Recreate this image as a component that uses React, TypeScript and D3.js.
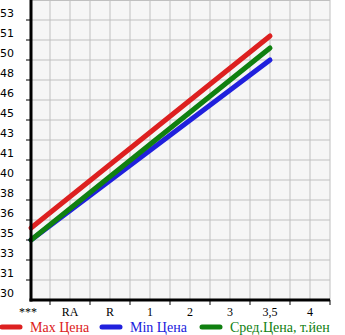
import React from "react";
import * as d3 from "d3";

const categories = ["***", "RA", "R", "1", "2", "3", "3,5", "4"];
const yTickLabels = ["30", "31", "33", "35", "36", "38", "40", "41", "43", "45", "46", "48", "50", "51", "53"];
const yMin = 30;
const yStep = 5 / 3;
const yMax = 55;

const maxPrice: (number | null)[] = [36, null, null, null, null, null, 52, null];
const minPrice: (number | null)[] = [35, null, null, null, null, null, 50, null];
const avgPrice: (number | null)[] = [35, null, null, null, null, null, 51, null];

const seriesNames = ["Max Цена", "Min Цена", "Сред.Цена, т.йен"];
const seriesColors = ["#dd2020", "#2020dd", "#108010"];

export default function App() {
  const W = 345, H = 335;
  const left = 31, right = 330, top = 0, bottom = 300;
  const x = d3.scalePoint<string>().domain(categories).range([30, 310]);
  const y = d3.scaleLinear().domain([yMin, yMax]).range([bottom, top]);

  const hGrid = d3.range(1, 15).map((i) => y(yMin + i * yStep));
  const vGrid = d3.range(50, 330, 20);
  const xTicks = categories.map((c) => (x(c) as number) + 20);

  const series = [
    { name: seriesNames[1], color: seriesColors[1], data: minPrice },
    { name: seriesNames[2], color: seriesColors[2], data: avgPrice },
    { name: seriesNames[0], color: seriesColors[0], data: maxPrice },
  ];
  const line = d3
    .line<[string, number | null]>()
    .defined((d) => d[1] != null)
    .x((d) => Math.max(left, x(d[0]) as number))
    .y((d) => y(d[1] as number));

  const legendItems = [
    { name: seriesNames[0], color: seriesColors[0], x0: 0 },
    { name: seriesNames[1], color: seriesColors[1], x0: 100 },
    { name: seriesNames[2], color: seriesColors[2], x0: 200 },
  ];

  return (
    <svg width={W} height={H} style={{ position: "absolute", left: 0, top: 0 }}>
      <rect x={left} y={top} width={right - left} height={bottom - top} fill="#f6f6f6" />
      {hGrid.map((gy, i) => (
        <line key={"h" + i} x1={left} x2={right} y1={gy} y2={gy} stroke="#c0c0c0" strokeWidth={1} />
      ))}
      {vGrid.map((gx, i) => (
        <line key={"v" + i} x1={gx} x2={gx} y1={top} y2={bottom} stroke="#c0c0c0" strokeWidth={1} />
      ))}
      <line x1={right} x2={right} y1={top} y2={bottom} stroke="#c0c0c0" strokeWidth={1} />
      <line x1={left} x2={right} y1={top + 0.5} y2={top + 0.5} stroke="#c0c0c0" strokeWidth={1} />
      {series.map((s) => (
        <path
          key={s.name}
          d={line(categories.map((c, i) => [c, s.data[i]] as [string, number | null]).filter((d) => d[1] != null)) || ""}
          fill="none"
          stroke={s.color}
          strokeWidth={5}
          strokeLinecap="round"
          strokeLinejoin="round"
        />
      ))}
      <line x1={left} x2={left} y1={top} y2={bottom + 1.5} stroke="#000" strokeWidth={3} />
      <line x1={left - 1.5} x2={right} y1={bottom} y2={bottom} stroke="#000" strokeWidth={3} />
      {yTickLabels.map((lab, i) => {
        const ty = y(yMin + i * yStep);
        return (
          <g key={"yt" + i}>
            {i > 0 && <line x1={26} x2={left} y1={ty} y2={ty} stroke="#000" strokeWidth={1} />}
            <text
              x={0}
              y={i === 0 ? ty - 3 : ty - 3}
              fontFamily="DejaVu Sans, sans-serif"
              fontSize={11}
              fill="#000"
            >
              {lab}
            </text>
          </g>
        );
      })}
      {xTicks.map((tx, i) => (
        <line key={"xt" + i} x1={tx} x2={tx} y1={bottom} y2={bottom + 5} stroke="#000" strokeWidth={1} />
      ))}
      {categories.map((c) => (
        <text
          key={"xl" + c}
          x={(x(c) as number) - (c === "***" ? 2 : 0)}
          y={316}
          textAnchor="middle"
          fontFamily="Liberation Serif, serif"
          fontSize={12}
          fill="#000"
        >
          {c}
        </text>
      ))}
      {legendItems.map((it) => (
        <g key={"lg" + it.name}>
          <line x1={it.x0 + 2} x2={it.x0 + 20} y1={327} y2={327} stroke={it.color} strokeWidth={5} strokeLinecap="round" />
          <text x={it.x0 + 30} y={332} fontFamily="Liberation Serif, serif" fontSize={14} fill={it.color}>
            {it.name}
          </text>
        </g>
      ))}
    </svg>
  );
}
